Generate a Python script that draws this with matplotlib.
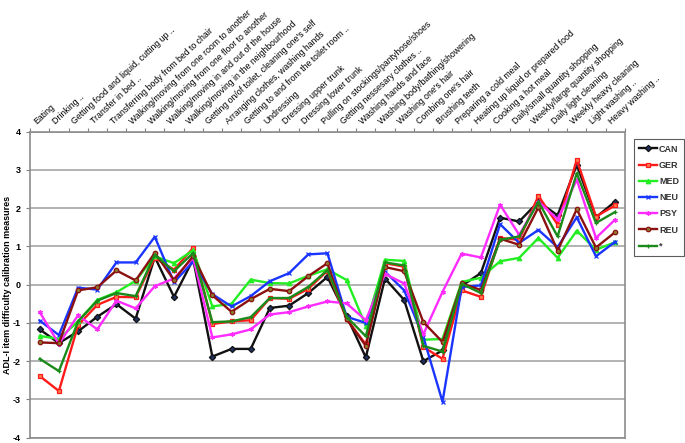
import numpy as np
import matplotlib.pyplot as plt

# item labels (top axis)
items = ["Eating", "Drinking ..", "Getting food and liquid, cutting up ..", "Transfer in bed ..",
         "Transferring body from bed to chair", "Walking/moving from one room to another",
         "Walking/moving from one floor to another", "Walking/moving in and out of the house",
         "Walking/moving in the neighbourhood", "Getting on/of toilet, cleaning one's self",
         "Arranging clothes, washing hands", "Getting to and from the toilet room ..",
         "Undressing", "Dressing upper trunk", "Dressing lower trunk",
         "Pulling on stockings/pantyhose/shoes", "Getting nessesary clothes ..",
         "Washing hands and face", "Washing body/bathing/showering", "Washing one's hair",
         "Combing one's hair", "Brushing teeth", "Preparing a cold meal",
         "Heating up liquid or prepared food", "Cooking a hot meal",
         "Daily/small quantity shopping", "Weekly/large quantity shopping",
         "Daily light cleaning", "Weekly heavy cleaning", "Light washing ..", "Heavy washing .."]

can = [-1.17, -1.53, -1.22, -0.84, -0.51, -0.89, 0.72, -0.32, 0.66, -1.88, -1.68, -1.68, -0.61, -0.55, -0.22, 0.2,
       -0.82, -1.9, 0.16, -0.4, -2.0, -1.72, -0.03, 0.3, 1.75, 1.65, 2.17, 1.81, 3.13, 1.76, 2.17]
ger = [-2.39, -2.78, -1.06, -0.53, -0.32, -0.33, 0.7, 0.39, 0.96, -1.03, -0.96, -0.93, -0.35, -0.37, -0.11, 0.36,
       -0.9, -1.56, 0.56, 0.47, -1.63, -1.94, -0.15, -0.32, 1.22, 1.17, 2.32, 1.57, 3.26, 1.78, 2.07]
med = [-1.34, -1.42, -0.96, -0.4, -0.2, 0.1, 0.74, 0.56, 0.9, -0.57, -0.5, 0.13, 0.04, 0.03, 0.23, 0.4,
       0.12, -1.08, 0.65, 0.62, -1.44, -1.42, 0.07, 0.18, 0.61, 0.7, 1.22, 0.7, 1.41, 0.91, 1.11]
neu = [-0.94, -1.32, -0.08, -0.13, 0.58, 0.58, 1.25, 0.06, 0.6, -0.25, -0.57, -0.3, 0.09, 0.3, 0.79, 0.82,
       -0.84, -1.0, 0.34, -0.15, -1.37, -3.06, -0.06, -0.02, 1.58, 1.09, 1.43, 0.98, 1.76, 0.74, 1.12]
psy = [-0.72, -1.55, -0.8, -1.17, -0.42, -0.62, -0.04, 0.16, 0.7, -1.38, -1.3, -1.17, -0.78, -0.72, -0.57, -0.44,
       -0.49, -0.93, 0.28, 0.03, -1.3, -0.19, 0.81, 0.71, 2.09, 1.3, 2.17, 1.71, 2.74, 1.22, 1.7]
reu = [-1.51, -1.53, -0.15, -0.07, 0.37, 0.11, 0.83, 0.12, 0.75, -0.28, -0.71, -0.38, -0.11, -0.17, 0.22, 0.56,
       -0.9, -1.6, 0.46, 0.35, -0.98, -1.5, 0.03, -0.14, 1.2, 1.04, 2.02, 0.89, 1.97, 0.97, 1.37]
star = [-1.94, -2.26, -0.96, -0.42, -0.22, -0.3, 0.78, 0.35, 0.83, -0.98, -0.96, -0.85, -0.35, -0.35, -0.06, 0.38,
        -0.84, -1.35, 0.58, 0.5, -1.6, -1.75, 0.02, -0.22, 1.17, 1.26, 2.17, 1.26, 2.91, 1.61, 1.9]

x = np.arange(len(items))

plt.rcParams['font.family'] = ['Liberation Sans', 'DejaVu Sans']

fig = plt.figure(figsize=(6.85, 4.43), dpi=100)
ax = fig.add_axes([0.044, 0.012, 0.868, 0.691])

# (label, data, colour, marker, marker face)
series = [
    ("CAN", can, "#111111", "D", "#1f2f5f"),
    ("GER", ger, "#ff1a1a", "s", "#ff7a50"),
    ("MED", med, "#22ee22", "^", "#22ee22"),
    ("NEU", neu, "#1a35ff", "x", "#1a35ff"),
    ("PSY", psy, "#ff2bff", (6, 2, 0), "#ff2bff"),
    ("REU", reu, "#8b1111", "o", "#8a7a30"),
    ("*", star, "#1a8a1a", "+", "#1a8a1a"),
]
for name, vals, col, mk, mfc in series:
    ax.plot(x, vals, color=col, lw=1.7, marker=mk, ms=3.2, mfc=mfc, mec=col, mew=0.9, label=name)

ax.set_xlim(-0.5, len(items) - 0.5)
ax.set_ylim(-4, 4)
ax.set_yticks(range(-4, 5))
ax.set_yticklabels([str(v) for v in range(-4, 5)], fontsize=6.5, fontweight="bold")
ax.yaxis.grid(True, color="#a6a6a6", lw=1.2)
ax.set_axisbelow(True)

# category axis sits on top, ticks between categories
ax.xaxis.tick_top()
ax.set_xticks(np.arange(-0.5, len(items), 1.0))
ax.set_xticklabels([])
ax.tick_params(axis="x", length=3, color="#808080", direction="out")
ax.tick_params(axis="y", length=3, color="#808080", pad=4)
for i, lab in enumerate(items):
    ax.text(i - 0.1, 4.15, lab, rotation=43, rotation_mode="anchor", ha="left", va="bottom",
            fontsize=6.3, transform=ax.transData)

for s in ax.spines.values():
    s.set_color("#8c8c8c")
    s.set_linewidth(1.2)

ax.set_ylabel("ADL-I item difficulty calibration measures", fontsize=6.5, fontweight="bold")
ax.yaxis.set_label_coords(-0.03, 0.5)

leg = fig.legend(loc="upper left", bbox_to_anchor=(0.925, 0.686), fontsize=6.5, frameon=True,
                 fancybox=False, edgecolor="#333333", handlelength=2.0, borderpad=0.6,
                 labelspacing=0.8, handletextpad=0.2, borderaxespad=0)
for t in leg.get_texts():
    t.set_fontweight("bold")
    t.set_color("#333333")
leg.get_frame().set_linewidth(0.8)

fig.savefig("out.png", dpi=100)
